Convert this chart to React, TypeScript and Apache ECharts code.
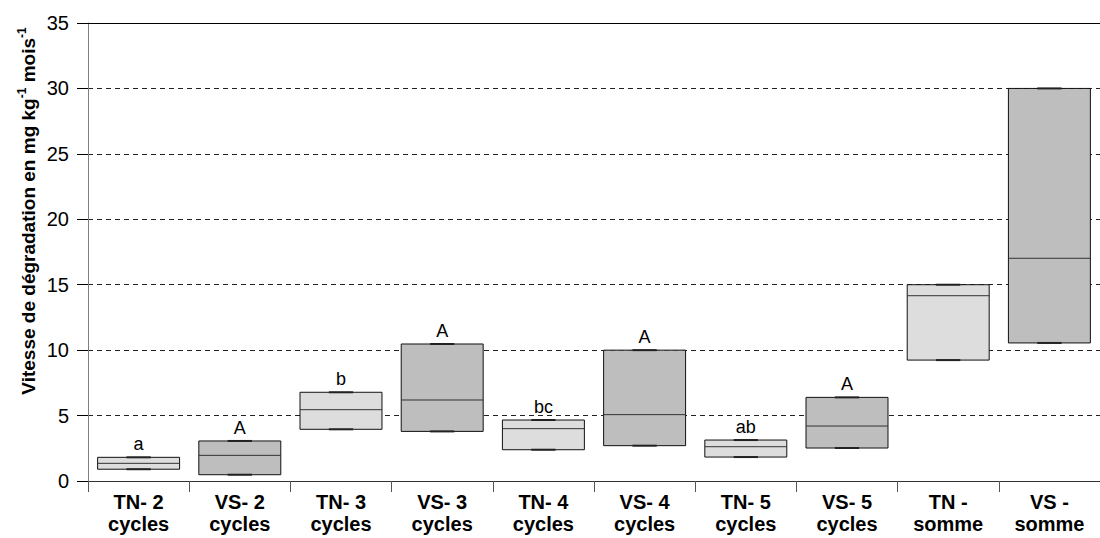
import React, { useEffect, useRef } from "react";
import * as echarts from "echarts";

const categories = [
  "TN- 2\ncycles",
  "VS- 2\ncycles",
  "TN- 3\ncycles",
  "VS- 3\ncycles",
  "TN- 4\ncycles",
  "VS- 4\ncycles",
  "TN- 5\ncycles",
  "VS- 5\ncycles",
  "TN -\nsomme",
  "VS -\nsomme",
];
const groups = ["TN", "VS", "TN", "VS", "TN", "VS", "TN", "VS", "TN", "VS"];
const minValues = [0.9, 0.48, 3.95, 3.79, 2.39, 2.7, 1.83, 2.52, 9.24, 10.55];
const medianValues = [1.35, 1.96, 5.45, 6.19, 4.0, 5.07, 2.62, 4.2, 14.16, 17.02];
const maxValues = [1.81, 3.06, 6.78, 10.47, 4.66, 10.0, 3.13, 6.39, 15.0, 30.0];
const letters = ["a", "A", "b", "A", "bc", "A", "ab", "A", "", ""];
const yTicks = { min: 0, max: 35, interval: 5 };
const yTitleMain1 = "Vitesse de dégradation en mg kg";
const yTitleSup = "-1";
const yTitleMain2 = " mois";

const groupColors: Record<string, string> = { TN: "#dcdddc", VS: "#bebebe" };
const FONT = "'Liberation Sans', Arial, Helvetica, sans-serif";

export default function App() {
  const ref = useRef<HTMLDivElement>(null);
  useEffect(() => {
    if (!ref.current) return;
    const chart = echarts.init(ref.current, null, { renderer: "svg" });
    const data = categories.map((c, i) => [i, minValues[i], medianValues[i], maxValues[i]]);
    chart.setOption({
      animation: false,
      backgroundColor: "#ffffff",
      grid: { left: 88, top: 23, width: 1021, height: 458 },
      xAxis: [
        {
          type: "category",
          data: categories,
          position: "bottom",
          boundaryGap: true,
          axisLine: { show: true, lineStyle: { color: "#333", width: 1 } },
          axisTick: { show: true, length: 11, lineStyle: { color: "#555" }, alignWithLabel: false },
          axisLabel: {
            fontFamily: FONT,
            fontSize: 20,
            fontWeight: "bold",
            color: "#000",
            lineHeight: 22,
            margin: 10,
            interval: 0,
          },
          splitLine: { show: false },
        },
        {
          type: "category",
          data: categories,
          position: "top",
          axisLine: { show: true, lineStyle: { color: "#000", width: 1 } },
          axisTick: { show: false },
          axisLabel: { show: false },
          splitLine: { show: false },
        },
      ],
      yAxis: {
        type: "value",
        min: yTicks.min,
        max: yTicks.max,
        interval: yTicks.interval,
        axisLine: { show: true, lineStyle: { color: "#808080", width: 1 } },
        axisTick: { show: true, length: 11, lineStyle: { color: "#000" } },
        axisLabel: { fontFamily: FONT, fontSize: 20, color: "#000", margin: 19 },
        splitLine: { show: true, lineStyle: { color: "#222", type: [5, 4], width: 1 } },
      },
      graphic: [
        {
          type: "text",
          x: 27,
          y: 211,
          rotation: Math.PI / 2,
          style: {
            text: `{b|${yTitleMain1}}{s|${yTitleSup}}{b|${yTitleMain2}}{s|${yTitleSup}}`,
            align: "center",
            verticalAlign: "middle",
            rich: {
              b: { fontFamily: FONT, fontSize: 19, fontWeight: "bold", fill: "#000", lineHeight: 22, verticalAlign: "bottom" },
              s: { fontFamily: FONT, fontSize: 12, fontWeight: "bold", fill: "#000", lineHeight: 22, verticalAlign: "top" },
            },
          },
        },
      ],
      series: [
        {
          type: "custom",
          xAxisIndex: 0,
          yAxisIndex: 0,
          data,
          encode: { x: 0, y: [1, 2, 3] },
          renderItem: (params: any, api: any) => {
            const idx = api.value(0);
            const lo = api.coord([idx, api.value(1)]);
            const med = api.coord([idx, api.value(2)]);
            const hi = api.coord([idx, api.value(3)]);
            const band = api.size([1, 0])[0];
            const w = band * 0.81;
            const cx = lo[0];
            const x0 = cx - w / 2;
            const capW = band * 0.24;
            const fill = groupColors[groups[idx]];
            const children: any[] = [
              {
                type: "rect",
                shape: { x: x0, y: hi[1], width: w, height: lo[1] - hi[1] },
                style: { fill, stroke: "#111", lineWidth: 1 },
              },
              {
                type: "line",
                shape: { x1: x0, y1: med[1], x2: x0 + w, y2: med[1] },
                style: { stroke: "#333", lineWidth: 1 },
              },
              {
                type: "line",
                shape: { x1: cx - capW / 2, y1: hi[1], x2: cx + capW / 2, y2: hi[1] },
                style: { stroke: "#222", lineWidth: 2 },
              },
              {
                type: "line",
                shape: { x1: cx - capW / 2, y1: lo[1], x2: cx + capW / 2, y2: lo[1] },
                style: { stroke: "#222", lineWidth: 2 },
              },
            ];
            if (letters[idx]) {
              children.push({
                type: "text",
                x: cx,
                y: hi[1] - 4,
                style: {
                  text: letters[idx],
                  fontFamily: FONT,
                  fontSize: 18,
                  fill: "#000",
                  align: "center",
                  verticalAlign: "bottom",
                },
              });
            }
            return { type: "group", children };
          },
        },
      ],
    });
    return () => chart.dispose();
  }, []);
  return (
    <div
      ref={ref}
      style={{ position: "absolute", left: 0, top: 0, width: 1100, height: 538, background: "#fff" }}
    />
  );
}
